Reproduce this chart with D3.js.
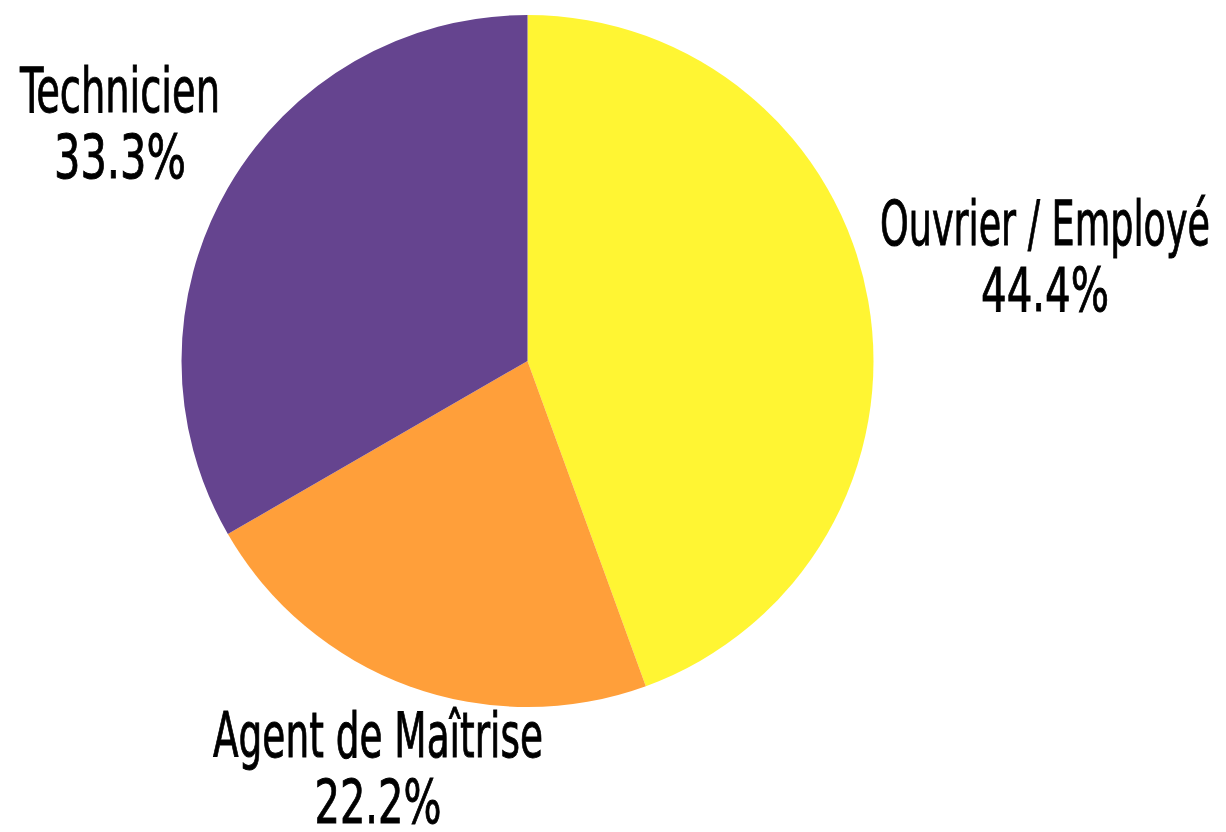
<!DOCTYPE html>
<html>
<head>
<meta charset="utf-8">
<script src="https://cdn.jsdelivr.net/npm/d3@7"></script>
<style>
  html, body { margin: 0; padding: 0; background: #ffffff; }
  svg { display: block; }
  .lbl { font-family: "Liberation Sans Narrow", "DejaVu Sans Condensed", "Roboto", sans-serif; fill: #000; stroke: #000; stroke-width: 0.9px; }
</style>
</head>
<body>
<svg id="chart" width="1226" height="832"></svg>
<script>
const categories = ["Ouvrier / Employé", "Agent de Maîtrise", "Technicien"];
const values = [44.4, 22.2, 33.3];
const colors = ["#FFF533", "#FF9F3A", "#65448F"];

const W = 1226, H = 832;
const cx = 527.5, cy = 361, R = 346;

const svg = d3.select("#chart");
const g = svg.append("g").attr("transform", `translate(${cx},${cy})`);

const data = categories.map((c, i) => ({ name: c, value: values[i], color: colors[i] }));
const pie = d3.pie().value(d => d.value).sort(null);
const arc = d3.arc().innerRadius(0).outerRadius(R);
const arcs = pie(data);

g.selectAll("path.slice")
  .data(arcs)
  .enter().append("path")
  .attr("class", "slice")
  .attr("d", arc)
  .attr("fill", d => d.data.color);

// label layout (absolute px): name center x, name baseline, name width, pct baseline, pct width
const labelLayout = [
  { x: 1045, y1: 245, w1: 330, y2: 311, w2: 128 },
  { x: 378,  y1: 757, w1: 330, y2: 823, w2: 127 },
  { x: 120,  y1: 112, w1: 200, y2: 178, w2: 132 }
];

const fmt = d3.format(".1f");
const labels = svg.append("g");
arcs.forEach((a, i) => {
  const L = labelLayout[i];
  labels.append("text").attr("class", "lbl")
    .attr("x", L.x).attr("y", L.y1)
    .attr("text-anchor", "middle")
    .attr("font-size", 63)
    .attr("textLength", L.w1)
    .attr("lengthAdjust", "spacingAndGlyphs")
    .text(a.data.name);
  labels.append("text").attr("class", "lbl")
    .attr("x", L.x).attr("y", L.y2)
    .attr("text-anchor", "middle")
    .attr("font-size", 61)
    .attr("textLength", L.w2)
    .attr("lengthAdjust", "spacingAndGlyphs")
    .text(fmt(a.data.value) + "%");
});
</script>
</body>
</html>
